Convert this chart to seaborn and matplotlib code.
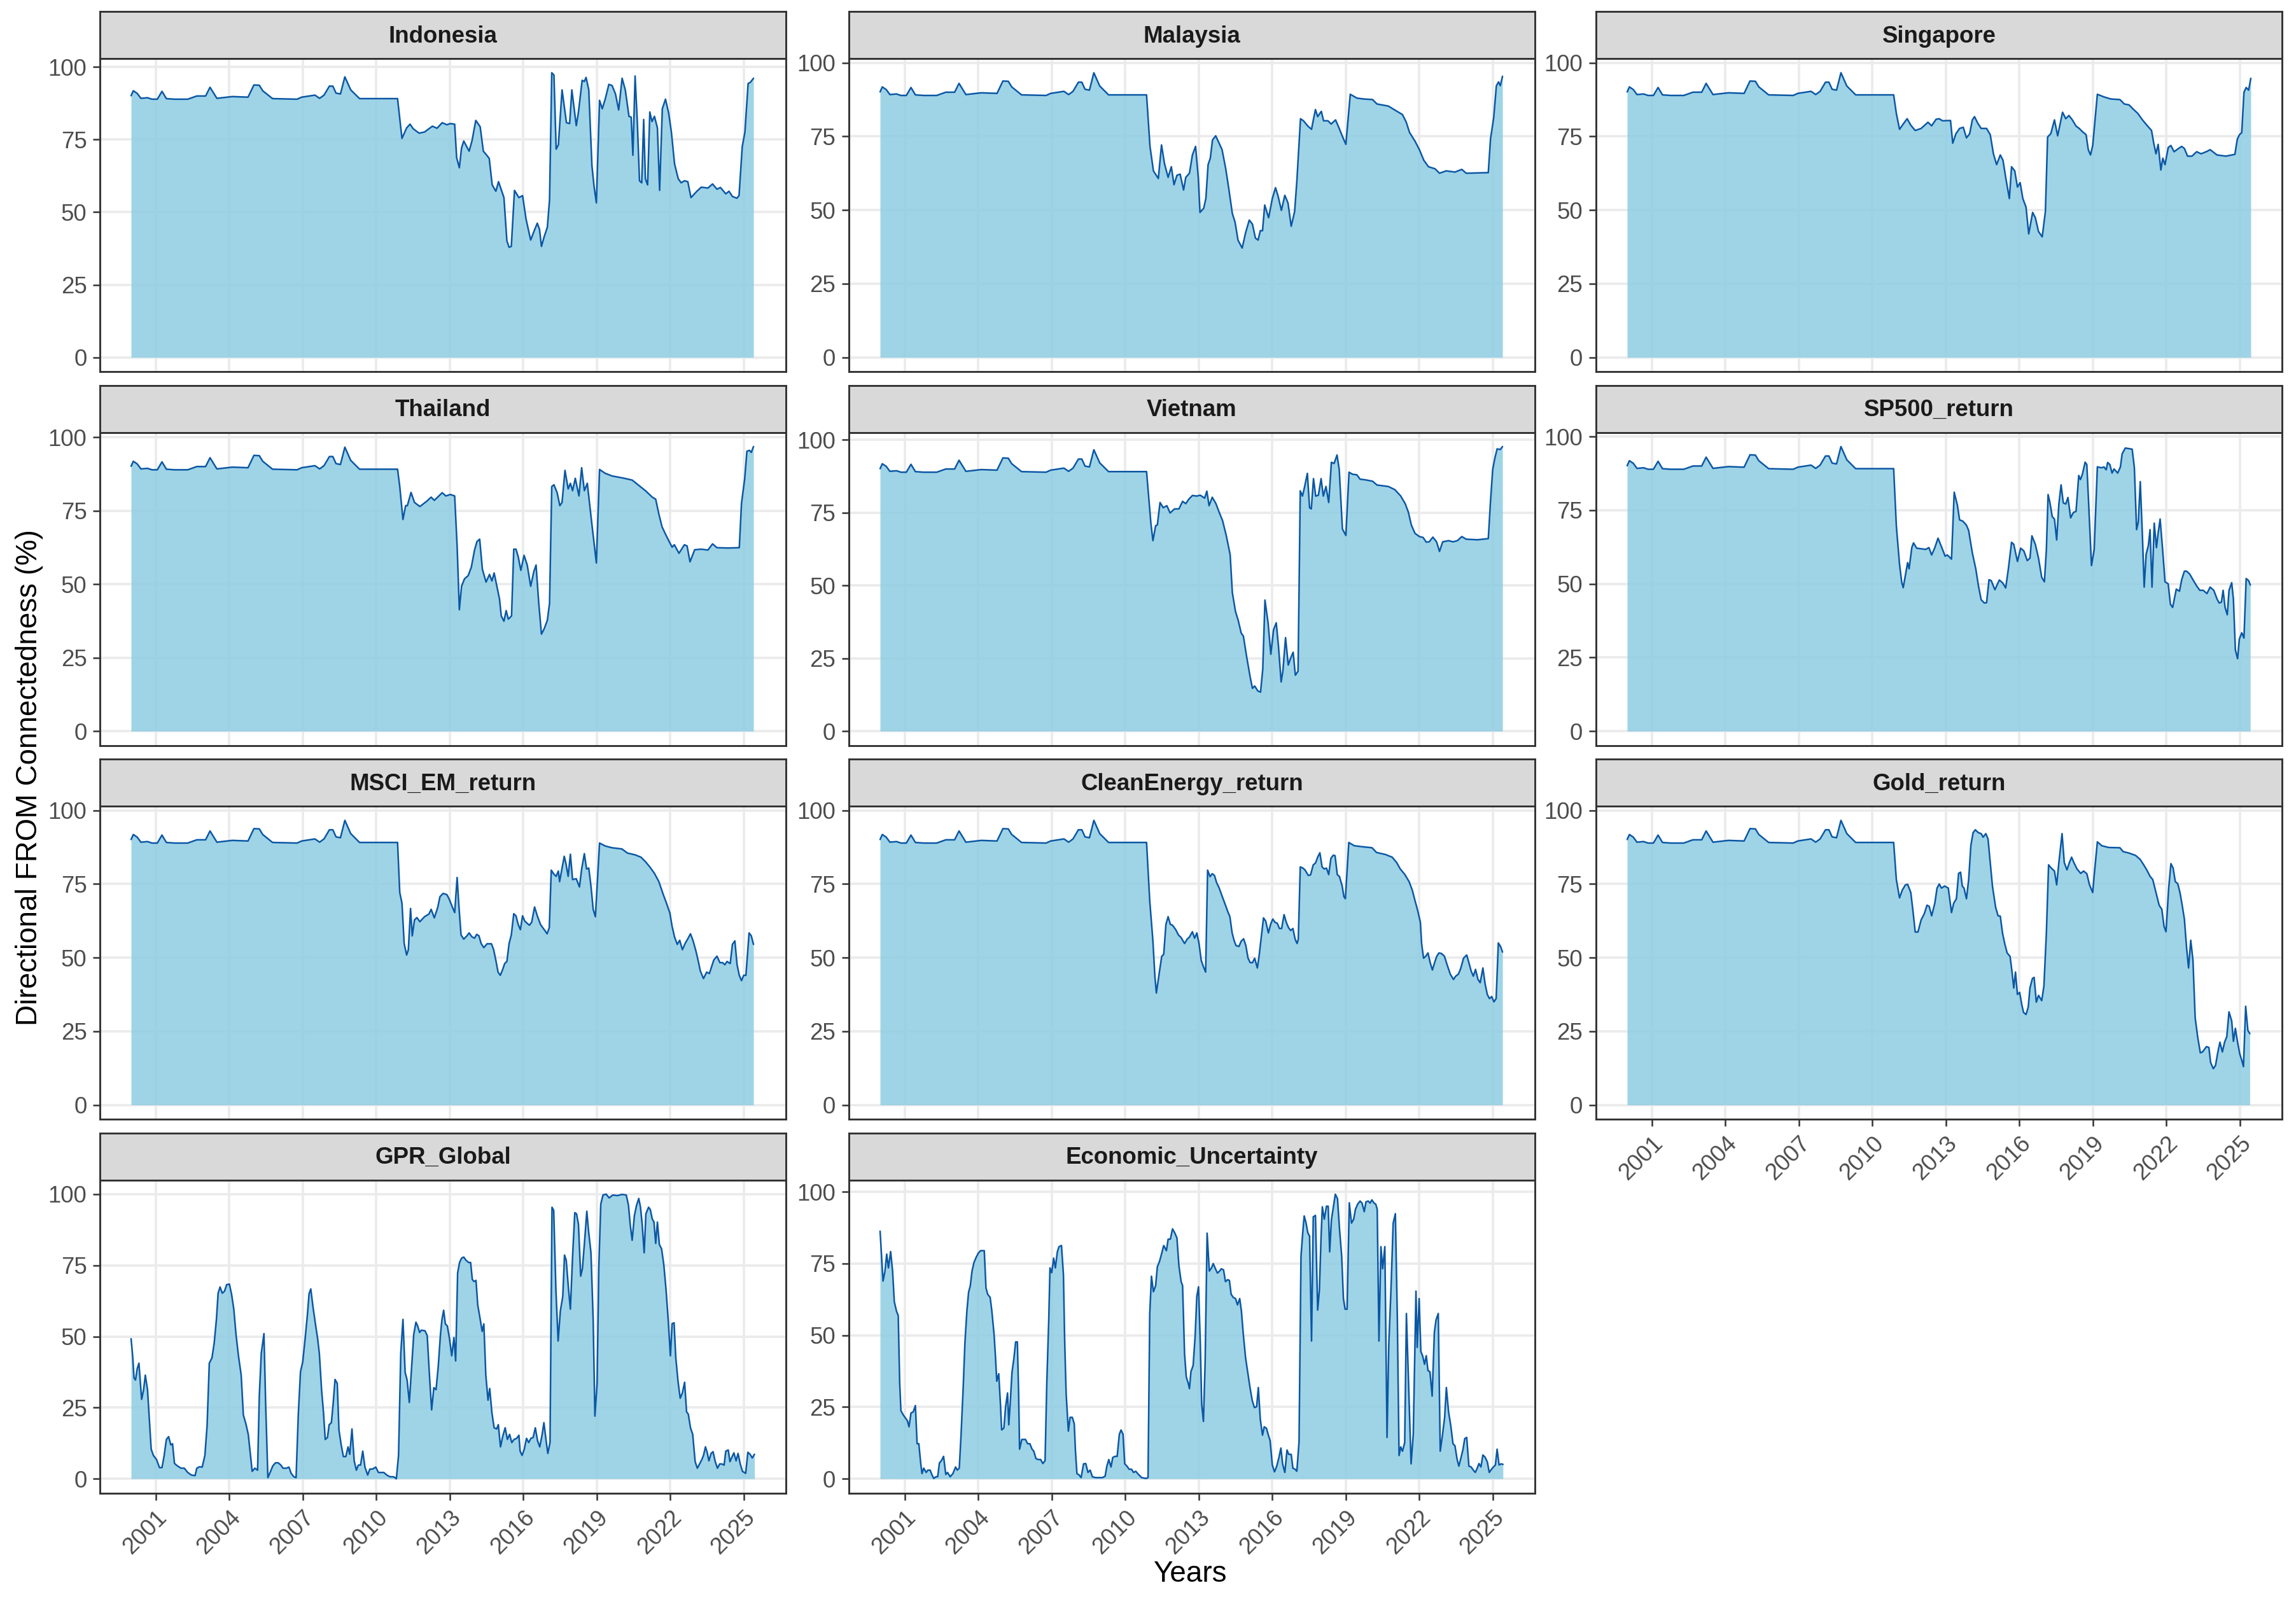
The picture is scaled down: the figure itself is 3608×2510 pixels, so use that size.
import numpy as np
import pandas as pd
import seaborn as sns
import matplotlib.pyplot as plt

# values (decimal year, connectedness %)
# first years are the same for the nine market series
early = [(2000.00, 90.1), (2000.09, 91.8), (2000.25, 90.9), (2000.40, 89.2), (2000.67, 89.4),
         (2000.85, 88.9), (2001.07, 88.9), (2001.26, 91.6), (2001.44, 89.1), (2001.77, 88.9),
         (2002.31, 88.9), (2002.68, 90.0), (2003.04, 90.0), (2003.22, 93.0), (2003.50, 89.2),
         (2004.13, 89.8), (2004.77, 89.6), (2005.01, 93.8), (2005.23, 93.7), (2005.37, 91.8),
         (2005.77, 89.1), (2006.77, 88.9), (2006.96, 89.6), (2007.50, 90.3), (2007.69, 89.2),
         (2007.87, 90.3), (2008.09, 93.4), (2008.23, 93.4), (2008.36, 91.0), (2008.54, 90.7),
         (2008.72, 96.6), (2008.96, 92.1), (2009.32, 89.1), (2010.87, 89.1)]

indonesia = [(2011.05, 75.4), (2011.24, 79.0), (2011.38, 80.3), (2011.51, 78.7), (2011.75, 77.2),
             (2011.97, 77.6), (2012.29, 79.6), (2012.48, 78.9), (2012.69, 80.8), (2012.88, 80.1),
             (2013.02, 80.5), (2013.20, 80.3), (2013.28, 68.8), (2013.39, 65.3), (2013.48, 72.1),
             (2013.57, 74.5), (2013.79, 71.0), (2013.91, 74.7), (2014.06, 81.6), (2014.24, 79.4),
             (2014.37, 71.0), (2014.48, 69.9), (2014.61, 68.5), (2014.73, 59.4), (2014.88, 57.2),
             (2014.99, 60.5), (2015.21, 55.0), (2015.33, 40.1), (2015.42, 37.9), (2015.51, 38.2),
             (2015.64, 57.5), (2015.82, 55.0), (2015.97, 55.7), (2016.11, 47.7), (2016.30, 40.4),
             (2016.43, 43.3), (2016.57, 46.2), (2016.66, 44.1), (2016.74, 38.2), (2016.85, 41.5),
             (2016.98, 44.8), (2017.07, 54.3), (2017.16, 98.0), (2017.25, 97.2), (2017.34, 71.7),
             (2017.43, 73.2), (2017.58, 92.1), (2017.76, 80.8), (2017.89, 80.5), (2017.98, 92.1),
             (2018.16, 79.8), (2018.25, 84.5), (2018.40, 95.4), (2018.49, 95.0), (2018.56, 96.4),
             (2018.67, 92.1), (2018.80, 65.9), (2018.89, 58.6), (2018.98, 53.2), (2019.11, 88.5),
             (2019.22, 85.6), (2019.34, 88.9), (2019.49, 94.0), (2019.62, 93.6), (2019.76, 90.7),
             (2019.89, 85.2), (2020.03, 96.1), (2020.16, 92.1), (2020.31, 83.0), (2020.40, 82.7),
             (2020.47, 69.6), (2020.56, 96.9), (2020.65, 81.2), (2020.74, 60.8), (2020.83, 60.1),
             (2020.91, 81.9), (2020.98, 61.5), (2021.07, 59.4), (2021.16, 84.5), (2021.25, 81.2),
             (2021.35, 83.0), (2021.47, 79.0), (2021.56, 57.5), (2021.67, 85.6), (2021.80, 88.9),
             (2021.93, 84.1), (2022.04, 77.6), (2022.17, 66.6), (2022.32, 61.5), (2022.44, 60.1),
             (2022.57, 60.8), (2022.71, 60.5), (2022.84, 55.0), (2023.08, 57.2), (2023.26, 58.6),
             (2023.53, 58.3), (2023.72, 59.7), (2023.90, 57.9), (2024.04, 58.5), (2024.26, 56.3),
             (2024.39, 57.2), (2024.53, 55.4), (2024.71, 54.8), (2024.80, 55.7), (2024.93, 72.5),
             (2025.04, 77.6), (2025.17, 94.3), (2025.26, 94.7), (2025.39, 96.1)]

malaysia = [(2011.01, 71.6), (2011.15, 63.3), (2011.35, 60.7), (2011.48, 72.1), (2011.60, 65.8),
            (2011.75, 61.1), (2011.88, 64.7), (2011.99, 58.6), (2012.11, 61.8), (2012.24, 62.2),
            (2012.38, 56.8), (2012.47, 61.1), (2012.62, 62.5), (2012.74, 68.7), (2012.87, 71.6),
            (2012.98, 61.1), (2013.05, 49.2), (2013.20, 50.6), (2013.29, 53.9), (2013.38, 65.4),
            (2013.47, 67.6), (2013.56, 73.8), (2013.69, 75.2), (2013.83, 72.7), (2013.95, 70.5),
            (2014.10, 64.0), (2014.22, 57.5), (2014.37, 48.8), (2014.48, 45.9), (2014.60, 39.8),
            (2014.77, 37.1), (2014.91, 42.3), (2015.06, 46.6), (2015.19, 45.2), (2015.31, 40.5),
            (2015.42, 39.8), (2015.51, 43.0), (2015.60, 43.0), (2015.69, 51.7), (2015.85, 47.4),
            (2016.00, 53.9), (2016.13, 57.6), (2016.24, 54.6), (2016.37, 49.9), (2016.51, 55.0),
            (2016.64, 52.4), (2016.77, 44.5), (2016.91, 49.5), (2017.00, 59.7), (2017.15, 81.0),
            (2017.27, 80.3), (2017.45, 78.5), (2017.60, 77.4), (2017.69, 81.3), (2017.76, 84.1),
            (2017.85, 81.7), (2018.00, 83.5), (2018.09, 80.3), (2018.27, 80.3), (2018.40, 79.2),
            (2018.58, 80.6), (2018.73, 77.7), (2018.87, 74.8), (2019.00, 72.3), (2019.18, 89.3),
            (2019.45, 88.0), (2019.73, 87.7), (2020.09, 87.5), (2020.27, 86.0), (2020.73, 85.3),
            (2021.09, 83.5), (2021.31, 82.4), (2021.46, 79.9), (2021.60, 76.3), (2021.82, 73.4),
            (2022.00, 70.5), (2022.18, 66.9), (2022.37, 64.7), (2022.64, 64.0), (2022.82, 62.5),
            (2023.09, 63.3), (2023.45, 62.9), (2023.73, 63.8), (2023.91, 62.5), (2024.81, 62.7),
            (2024.90, 74.1), (2025.03, 81.3), (2025.14, 92.2), (2025.23, 93.5), (2025.30, 92.2),
            (2025.39, 95.4)]

singapore = [(2010.98, 82.8), (2011.11, 77.4), (2011.26, 79.2), (2011.42, 81.0), (2011.57, 78.8),
             (2011.75, 77.0), (2011.99, 77.7), (2012.27, 79.8), (2012.42, 78.6), (2012.60, 80.8),
             (2012.73, 81.0), (2012.86, 80.3), (2013.19, 80.4), (2013.28, 72.7), (2013.41, 75.9),
             (2013.56, 77.7), (2013.71, 78.1), (2013.84, 74.5), (2013.97, 75.9), (2014.08, 80.6),
             (2014.17, 81.7), (2014.30, 79.5), (2014.44, 77.7), (2014.66, 77.7), (2014.81, 75.6),
             (2014.94, 69.1), (2015.07, 65.4), (2015.22, 68.7), (2015.33, 66.9), (2015.44, 61.1),
             (2015.59, 53.9), (2015.68, 64.7), (2015.81, 63.3), (2015.92, 57.8), (2016.03, 59.3),
             (2016.14, 53.9), (2016.27, 51.0), (2016.38, 41.9), (2016.54, 49.2), (2016.65, 47.4),
             (2016.78, 42.7), (2016.93, 40.9), (2017.06, 49.5), (2017.15, 74.8), (2017.28, 75.9),
             (2017.43, 80.6), (2017.56, 75.2), (2017.76, 83.2), (2017.89, 81.0), (2018.02, 82.1),
             (2018.16, 80.6), (2018.31, 78.5), (2018.44, 77.7), (2018.57, 76.6), (2018.72, 75.6),
             (2018.81, 70.5), (2018.90, 68.7), (2018.99, 71.9), (2019.18, 89.3), (2019.45, 88.4),
             (2019.73, 87.7), (2020.10, 87.5), (2020.28, 86.0), (2020.47, 85.7), (2020.65, 84.2),
             (2020.83, 82.8), (2021.02, 80.6), (2021.20, 78.8), (2021.39, 77.0), (2021.48, 72.7),
             (2021.57, 69.1), (2021.66, 72.3), (2021.77, 63.6), (2021.85, 67.6), (2021.94, 65.4),
             (2022.07, 71.2), (2022.18, 71.9), (2022.31, 69.8), (2022.49, 70.9), (2022.62, 71.6),
             (2022.73, 70.9), (2022.86, 68.3), (2023.04, 68.3), (2023.23, 69.8), (2023.41, 69.1),
             (2023.65, 69.9), (2023.78, 70.5), (2024.06, 68.7), (2024.42, 68.3), (2024.79, 68.9),
             (2024.89, 74.1), (2024.98, 75.6), (2025.07, 76.3), (2025.16, 90.0), (2025.25, 91.6),
             (2025.35, 90.7), (2025.44, 94.7)]

thailand = [(2010.96, 83.2), (2011.09, 72.0), (2011.20, 76.7), (2011.27, 76.7), (2011.42, 81.2),
            (2011.56, 77.8), (2011.78, 76.4), (2012.06, 78.2), (2012.24, 79.6), (2012.37, 78.5),
            (2012.69, 81.1), (2012.84, 80.0), (2013.02, 80.5), (2013.20, 80.0), (2013.30, 63.0),
            (2013.39, 41.3), (2013.48, 49.3), (2013.60, 51.8), (2013.75, 52.9), (2013.88, 55.8),
            (2014.01, 61.6), (2014.11, 64.5), (2014.22, 65.3), (2014.33, 55.1), (2014.48, 50.7),
            (2014.62, 53.3), (2014.72, 51.1), (2014.81, 53.8), (2014.92, 49.3), (2015.03, 44.9),
            (2015.10, 39.2), (2015.21, 37.4), (2015.30, 41.0), (2015.39, 38.1), (2015.52, 39.2),
            (2015.61, 61.9), (2015.70, 61.9), (2015.79, 59.4), (2015.90, 54.7), (2016.03, 59.8),
            (2016.16, 56.5), (2016.30, 49.3), (2016.43, 54.3), (2016.52, 56.5), (2016.63, 43.5),
            (2016.74, 33.0), (2016.85, 34.8), (2016.98, 37.7), (2017.07, 43.5), (2017.16, 83.2),
            (2017.25, 83.8), (2017.38, 81.1), (2017.49, 76.7), (2017.58, 77.8), (2017.70, 88.7),
            (2017.83, 82.4), (2017.92, 84.3), (2018.01, 81.8), (2018.12, 86.0), (2018.27, 80.0),
            (2018.38, 89.6), (2018.49, 81.8), (2018.61, 84.3), (2018.80, 70.2), (2018.98, 57.2),
            (2019.11, 89.0), (2019.34, 87.7), (2019.62, 86.8), (2020.07, 86.1), (2020.44, 85.4),
            (2020.71, 83.6), (2020.98, 81.8), (2021.26, 79.6), (2021.40, 78.9), (2021.53, 73.8),
            (2021.66, 69.5), (2021.80, 67.0), (2021.95, 64.5), (2022.07, 62.6), (2022.16, 63.4),
            (2022.35, 60.5), (2022.57, 63.4), (2022.68, 63.0), (2022.80, 57.6), (2022.99, 61.7),
            (2023.26, 61.9), (2023.53, 61.6), (2023.72, 63.7), (2023.90, 62.4), (2024.35, 62.3),
            (2024.81, 62.4), (2024.90, 77.5), (2025.03, 85.8), (2025.12, 95.2), (2025.23, 95.5),
            (2025.30, 94.8), (2025.39, 96.8)]

vietnam = [(2011.05, 71.1), (2011.13, 65.4), (2011.24, 70.5), (2011.31, 70.8), (2011.42, 78.5),
           (2011.55, 76.7), (2011.70, 77.4), (2011.83, 74.9), (2012.01, 76.3), (2012.19, 76.3),
           (2012.34, 78.9), (2012.47, 78.1), (2012.59, 79.6), (2012.74, 80.9), (2012.92, 80.7),
           (2013.06, 81.0), (2013.24, 80.0), (2013.33, 82.4), (2013.42, 77.4), (2013.55, 80.3),
           (2013.70, 78.1), (2013.83, 75.2), (2013.97, 72.3), (2014.12, 67.2), (2014.28, 60.6),
           (2014.37, 47.5), (2014.50, 41.0), (2014.61, 38.0), (2014.73, 33.7), (2014.82, 32.6),
           (2014.95, 25.7), (2015.10, 18.4), (2015.19, 14.7), (2015.28, 15.5), (2015.41, 13.8),
           (2015.52, 13.4), (2015.61, 21.3), (2015.70, 45.0), (2015.83, 37.0), (2015.94, 26.4),
           (2016.05, 34.8), (2016.16, 37.2), (2016.25, 29.3), (2016.36, 16.9), (2016.43, 20.6),
           (2016.54, 32.1), (2016.65, 22.7), (2016.74, 24.9), (2016.85, 27.1), (2016.94, 19.2),
           (2017.05, 20.6), (2017.14, 82.5), (2017.23, 80.7), (2017.32, 84.0), (2017.43, 88.5),
           (2017.52, 76.7), (2017.59, 76.3), (2017.68, 86.7), (2017.77, 80.7), (2017.88, 81.0),
           (2017.99, 86.7), (2018.08, 80.7), (2018.19, 84.0), (2018.30, 78.5), (2018.41, 92.3),
           (2018.52, 91.9), (2018.64, 94.8), (2018.73, 89.8), (2018.86, 69.4), (2019.00, 67.2),
           (2019.13, 88.9), (2019.27, 88.2), (2019.45, 88.0), (2019.58, 86.5), (2019.78, 86.3),
           (2020.09, 85.8), (2020.27, 84.5), (2020.73, 84.0), (2021.00, 82.9), (2021.24, 80.7),
           (2021.42, 78.1), (2021.55, 75.2), (2021.67, 70.8), (2021.82, 67.9), (2022.00, 66.8),
           (2022.15, 66.5), (2022.28, 64.9), (2022.40, 65.0), (2022.55, 66.6), (2022.70, 65.0),
           (2022.82, 61.7), (2022.95, 65.0), (2023.19, 65.4), (2023.37, 65.0), (2023.55, 65.4),
           (2023.73, 66.8), (2023.91, 65.9), (2024.37, 65.7), (2024.81, 66.1), (2024.90, 78.9),
           (2024.99, 89.8), (2025.08, 93.8), (2025.17, 96.9), (2025.30, 96.7), (2025.39, 97.7)]

sp500 = [(2010.98, 69.7), (2011.11, 56.6), (2011.20, 50.5), (2011.26, 48.7), (2011.35, 52.9),
         (2011.44, 57.2), (2011.50, 55.1), (2011.61, 62.3), (2011.68, 63.9), (2011.81, 62.1),
         (2011.99, 61.9), (2012.18, 61.7), (2012.31, 62.3), (2012.42, 59.8), (2012.55, 62.3),
         (2012.68, 65.5), (2012.82, 62.6), (2012.97, 59.4), (2013.06, 59.8), (2013.23, 58.4),
         (2013.34, 81.1), (2013.47, 76.7), (2013.56, 71.7), (2013.69, 71.3), (2013.84, 69.9),
         (2013.93, 68.1), (2014.08, 60.5), (2014.22, 55.1), (2014.33, 49.3), (2014.44, 44.6),
         (2014.57, 43.5), (2014.66, 43.6), (2014.76, 51.4), (2014.85, 51.1), (2015.00, 48.0),
         (2015.18, 51.3), (2015.31, 50.4), (2015.44, 48.6), (2015.55, 55.1), (2015.68, 64.1),
         (2015.77, 63.4), (2015.92, 57.6), (2016.05, 62.1), (2016.18, 61.2), (2016.32, 57.9),
         (2016.43, 58.7), (2016.51, 66.3), (2016.65, 63.4), (2016.78, 58.7), (2016.91, 52.2),
         (2017.02, 50.7), (2017.10, 61.6), (2017.17, 80.3), (2017.24, 77.8), (2017.34, 72.8),
         (2017.43, 72.0), (2017.52, 64.9), (2017.61, 77.1), (2017.70, 83.6), (2017.79, 77.5),
         (2017.89, 77.1), (2017.98, 79.3), (2018.09, 72.4), (2018.20, 74.2), (2018.31, 74.6),
         (2018.42, 86.8), (2018.49, 85.4), (2018.57, 87.2), (2018.68, 91.3), (2018.75, 90.5),
         (2018.84, 74.6), (2018.94, 56.2), (2019.05, 61.6), (2019.18, 89.7), (2019.36, 89.4),
         (2019.45, 89.7), (2019.54, 88.7), (2019.60, 91.2), (2019.69, 90.5), (2019.78, 87.6),
         (2019.86, 89.0), (2020.01, 87.6), (2020.12, 89.7), (2020.19, 94.1), (2020.32, 96.1),
         (2020.47, 95.9), (2020.60, 95.7), (2020.69, 89.4), (2020.78, 68.4), (2020.85, 71.0),
         (2020.93, 84.7), (2021.02, 65.9), (2021.09, 48.9), (2021.17, 60.1), (2021.26, 63.0),
         (2021.33, 68.4), (2021.41, 48.9), (2021.50, 70.6), (2021.59, 62.3), (2021.66, 67.3),
         (2021.74, 72.0), (2021.85, 60.8), (2021.94, 50.7), (2022.07, 50.0), (2022.16, 43.1),
         (2022.25, 42.0), (2022.40, 48.2), (2022.53, 47.5), (2022.62, 51.4), (2022.73, 54.3),
         (2022.82, 54.3), (2022.95, 53.3), (2023.10, 51.1), (2023.23, 49.3), (2023.36, 47.8),
         (2023.50, 47.8), (2023.65, 46.7), (2023.78, 48.9), (2023.93, 47.8), (2024.06, 44.9),
         (2024.15, 43.5), (2024.24, 43.8), (2024.31, 47.8), (2024.39, 42.0), (2024.48, 39.5),
         (2024.55, 47.8), (2024.66, 50.4), (2024.73, 44.9), (2024.81, 27.6), (2024.90, 24.6),
         (2024.97, 31.2), (2025.07, 33.4), (2025.16, 31.6), (2025.25, 51.8), (2025.35, 51.1),
         (2025.42, 49.6)]

msci_em = [(2010.96, 72.1), (2011.05, 68.5), (2011.14, 54.8), (2011.24, 50.9), (2011.31, 52.7),
           (2011.40, 66.7), (2011.47, 57.4), (2011.56, 62.8), (2011.66, 63.6), (2011.78, 62.2),
           (2011.97, 63.9), (2012.15, 64.8), (2012.24, 66.4), (2012.37, 63.5), (2012.51, 67.1),
           (2012.60, 70.7), (2012.73, 71.8), (2012.88, 71.4), (2012.97, 70.0), (2013.09, 67.5),
           (2013.20, 65.3), (2013.30, 77.2), (2013.37, 67.8), (2013.46, 57.7), (2013.57, 56.3),
           (2013.70, 57.4), (2013.79, 58.4), (2013.90, 57.1), (2014.01, 56.6), (2014.10, 57.9),
           (2014.19, 57.4), (2014.28, 54.8), (2014.39, 53.4), (2014.52, 54.7), (2014.70, 54.7),
           (2014.79, 52.7), (2014.88, 49.1), (2014.97, 45.1), (2015.06, 44.0), (2015.15, 45.8),
           (2015.24, 48.0), (2015.33, 48.7), (2015.42, 54.8), (2015.51, 57.7), (2015.61, 64.9),
           (2015.70, 64.2), (2015.79, 61.3), (2015.88, 59.5), (2015.97, 64.2), (2016.06, 62.4),
           (2016.15, 61.7), (2016.25, 61.0), (2016.34, 62.0), (2016.46, 67.2), (2016.57, 64.2),
           (2016.70, 61.3), (2016.79, 60.2), (2016.88, 59.2), (2016.97, 58.1), (2017.06, 60.2),
           (2017.14, 79.7), (2017.25, 78.3), (2017.34, 77.6), (2017.43, 79.4), (2017.48, 75.8),
           (2017.58, 80.4), (2017.67, 84.4), (2017.74, 81.9), (2017.83, 77.6), (2017.92, 85.1),
           (2018.01, 76.5), (2018.16, 76.8), (2018.29, 74.0), (2018.38, 80.1), (2018.49, 85.3),
           (2018.58, 80.1), (2018.67, 80.4), (2018.76, 74.3), (2018.85, 66.4), (2018.94, 63.9),
           (2019.11, 88.9), (2019.34, 87.9), (2019.62, 87.3), (2020.02, 86.9), (2020.25, 85.5),
           (2020.56, 84.9), (2020.80, 84.1), (2020.98, 82.6), (2021.16, 80.8), (2021.35, 78.6),
           (2021.53, 75.8), (2021.71, 71.4), (2021.84, 68.5), (2021.98, 65.1), (2022.07, 60.6),
           (2022.17, 57.0), (2022.28, 54.5), (2022.38, 55.9), (2022.49, 52.7), (2022.60, 54.8),
           (2022.71, 56.4), (2022.82, 58.1), (2022.93, 55.6), (2023.04, 52.3), (2023.13, 49.1),
           (2023.22, 45.5), (2023.35, 42.9), (2023.48, 45.1), (2023.59, 44.6), (2023.68, 46.9),
           (2023.77, 49.2), (2023.90, 50.5), (2024.02, 48.3), (2024.13, 48.3), (2024.22, 47.6),
           (2024.31, 48.7), (2024.44, 48.0), (2024.53, 54.5), (2024.63, 55.7), (2024.72, 47.6),
           (2024.81, 44.0), (2024.90, 42.2), (2024.99, 44.0), (2025.08, 44.0), (2025.21, 58.4),
           (2025.30, 57.4), (2025.39, 54.5)]

clean_energy = [(2011.00, 69.3), (2011.13, 55.6), (2011.21, 43.7), (2011.27, 38.0), (2011.40, 45.5),
                (2011.49, 50.5), (2011.57, 51.1), (2011.66, 61.3), (2011.75, 63.9), (2011.84, 61.3),
                (2011.93, 61.0), (2012.06, 59.5), (2012.17, 57.7), (2012.28, 56.8), (2012.42, 54.8),
                (2012.53, 56.3), (2012.62, 57.0), (2012.74, 58.8), (2012.83, 56.6), (2012.92, 58.4),
                (2013.01, 54.8), (2013.10, 49.1), (2013.19, 46.9), (2013.28, 45.1), (2013.36, 79.7),
                (2013.46, 77.5), (2013.55, 78.5), (2013.64, 77.9), (2013.73, 75.4), (2013.82, 73.9),
                (2013.96, 70.7), (2014.09, 67.8), (2014.18, 65.7), (2014.27, 63.9), (2014.36, 58.4),
                (2014.45, 55.6), (2014.52, 54.1), (2014.64, 53.8), (2014.73, 55.6), (2014.83, 56.4),
                (2014.92, 54.1), (2015.01, 49.8), (2015.10, 48.3), (2015.19, 48.3), (2015.28, 49.8),
                (2015.39, 46.5), (2015.46, 50.5), (2015.55, 57.0), (2015.64, 63.5), (2015.73, 62.4),
                (2015.84, 58.4), (2015.93, 61.3), (2016.02, 63.1), (2016.11, 62.0), (2016.20, 61.7),
                (2016.29, 59.9), (2016.38, 59.9), (2016.48, 64.6), (2016.57, 62.0), (2016.66, 60.2),
                (2016.75, 59.2), (2016.84, 59.9), (2016.93, 56.3), (2017.01, 54.8), (2017.06, 56.3),
                (2017.14, 80.8), (2017.25, 80.4), (2017.34, 79.7), (2017.47, 77.9), (2017.56, 78.1),
                (2017.67, 81.5), (2017.76, 82.1), (2017.85, 84.1), (2017.94, 85.6), (2018.03, 80.8),
                (2018.12, 80.1), (2018.21, 80.4), (2018.30, 78.2), (2018.39, 83.7), (2018.49, 84.8),
                (2018.56, 84.6), (2018.65, 78.2), (2018.74, 77.5), (2018.85, 74.3), (2018.92, 70.7),
                (2018.98, 70.0), (2019.12, 89.1), (2019.34, 88.0), (2019.62, 87.7), (2020.07, 87.3),
                (2020.25, 85.7), (2020.62, 85.0), (2020.89, 84.1), (2021.07, 82.3), (2021.22, 80.1),
                (2021.40, 78.3), (2021.58, 75.8), (2021.71, 72.9), (2021.80, 70.0), (2021.93, 66.0),
                (2022.04, 62.0), (2022.09, 54.8), (2022.17, 49.8), (2022.26, 50.5), (2022.35, 51.6),
                (2022.44, 48.3), (2022.53, 45.8), (2022.62, 48.3), (2022.71, 50.5), (2022.80, 51.6),
                (2022.90, 51.4), (2023.02, 50.5), (2023.13, 47.6), (2023.26, 44.4), (2023.39, 42.6),
                (2023.48, 43.7), (2023.59, 44.4), (2023.68, 46.2), (2023.80, 49.8), (2023.93, 50.9),
                (2024.02, 48.3), (2024.11, 45.5), (2024.20, 43.7), (2024.29, 46.0), (2024.39, 42.6),
                (2024.48, 41.5), (2024.59, 46.5), (2024.68, 41.1), (2024.77, 37.5), (2024.86, 36.1),
                (2024.95, 36.8), (2025.04, 35.0), (2025.13, 36.1), (2025.22, 55.0), (2025.31, 53.8),
                (2025.39, 51.9)]

gold = [(2010.98, 76.5), (2011.11, 70.3), (2011.22, 72.9), (2011.35, 74.7), (2011.44, 74.9),
        (2011.57, 72.1), (2011.66, 65.7), (2011.75, 58.7), (2011.86, 58.7), (2011.99, 62.8),
        (2012.12, 64.9), (2012.23, 67.8), (2012.32, 67.4), (2012.42, 64.2), (2012.55, 68.5),
        (2012.64, 73.6), (2012.73, 75.0), (2012.82, 73.6), (2012.95, 74.3), (2013.10, 73.6),
        (2013.23, 65.3), (2013.32, 68.5), (2013.43, 70.0), (2013.52, 78.6), (2013.60, 79.0),
        (2013.67, 74.3), (2013.74, 73.6), (2013.84, 70.0), (2013.93, 76.5), (2014.02, 88.1),
        (2014.11, 92.4), (2014.20, 93.4), (2014.33, 92.4), (2014.44, 92.1), (2014.52, 90.9),
        (2014.63, 92.1), (2014.72, 90.3), (2014.81, 82.4), (2014.90, 74.3), (2015.03, 67.1),
        (2015.13, 64.2), (2015.22, 64.1), (2015.31, 58.4), (2015.40, 54.8), (2015.50, 51.6),
        (2015.62, 50.4), (2015.70, 45.1), (2015.77, 39.7), (2015.84, 45.1), (2015.92, 37.5),
        (2016.01, 38.2), (2016.10, 33.9), (2016.17, 31.4), (2016.27, 30.7), (2016.36, 33.2),
        (2016.43, 39.7), (2016.53, 42.9), (2016.60, 43.3), (2016.69, 34.9), (2016.78, 37.2),
        (2016.91, 35.4), (2017.00, 40.4), (2017.10, 58.4), (2017.19, 81.5), (2017.30, 80.4),
        (2017.43, 79.4), (2017.52, 74.7), (2017.61, 82.3), (2017.74, 92.1), (2017.83, 82.3),
        (2017.94, 79.8), (2018.04, 82.3), (2018.13, 84.1), (2018.22, 82.3), (2018.35, 80.1),
        (2018.50, 78.6), (2018.62, 79.4), (2018.75, 78.5), (2018.86, 74.7), (2018.99, 72.1),
        (2019.05, 77.9), (2019.18, 89.3), (2019.36, 88.0), (2019.64, 87.4), (2020.10, 87.3),
        (2020.23, 86.0), (2020.47, 85.5), (2020.74, 84.7), (2020.93, 83.3), (2021.07, 81.5),
        (2021.20, 79.7), (2021.33, 77.6), (2021.44, 76.5), (2021.57, 72.1), (2021.70, 67.8),
        (2021.81, 66.4), (2021.90, 60.6), (2021.98, 58.8), (2022.09, 73.6), (2022.18, 81.9),
        (2022.27, 80.4), (2022.36, 75.8), (2022.46, 75.1), (2022.55, 72.1), (2022.64, 67.8),
        (2022.73, 63.1), (2022.82, 53.4), (2022.90, 46.5), (2022.99, 55.9), (2023.08, 49.1),
        (2023.17, 29.6), (2023.27, 23.2), (2023.38, 17.7), (2023.47, 18.0), (2023.54, 18.8),
        (2023.63, 19.8), (2023.73, 19.5), (2023.80, 14.4), (2023.91, 12.3), (2024.00, 13.4),
        (2024.09, 17.7), (2024.18, 21.3), (2024.28, 18.0), (2024.37, 21.3), (2024.46, 23.2),
        (2024.55, 31.6), (2024.66, 28.5), (2024.73, 21.6), (2024.81, 26.0), (2024.90, 21.3),
        (2024.99, 17.3), (2025.07, 15.2), (2025.14, 13.0), (2025.23, 33.5), (2025.32, 25.3),
        (2025.40, 24.2)]

gpr_global = [(2000.00, 49.2), (2000.07, 42.5), (2000.12, 35.4), (2000.18, 34.7), (2000.25, 38.7),
              (2000.32, 40.6), (2000.38, 33.5), (2000.43, 27.9), (2000.51, 31.3), (2000.58, 36.4),
              (2000.67, 31.3), (2000.74, 21.6), (2000.82, 10.4), (2000.91, 8.2), (2001.04, 6.7),
              (2001.16, 3.9), (2001.26, 3.9), (2001.35, 8.2), (2001.44, 13.8), (2001.53, 14.8),
              (2001.62, 11.9), (2001.69, 12.3), (2001.77, 5.4), (2001.89, 4.5), (2002.04, 3.7),
              (2002.17, 3.7), (2002.31, 2.2), (2002.46, 1.3), (2002.61, 1.1), (2002.68, 3.7),
              (2002.79, 4.2), (2002.90, 4.1), (2003.01, 8.2), (2003.10, 18.6), (2003.19, 40.6),
              (2003.30, 42.5), (2003.39, 47.7), (2003.48, 55.9), (2003.55, 65.2), (2003.63, 67.4),
              (2003.72, 65.2), (2003.81, 65.9), (2003.90, 68.2), (2004.01, 68.4), (2004.10, 64.8),
              (2004.19, 59.6), (2004.28, 50.7), (2004.38, 43.2), (2004.49, 36.5), (2004.58, 22.4),
              (2004.68, 19.4), (2004.78, 15.6), (2004.87, 8.2), (2004.94, 2.6), (2005.05, 3.7),
              (2005.16, 3.0), (2005.23, 29.1), (2005.31, 44.0), (2005.42, 51.0), (2005.49, 26.1),
              (2005.58, 0.4), (2005.69, 2.6), (2005.78, 4.5), (2005.89, 5.6), (2006.00, 5.6),
              (2006.11, 4.8), (2006.20, 3.7), (2006.33, 3.7), (2006.44, 4.1), (2006.53, 1.9),
              (2006.64, 0.7), (2006.73, 0.4), (2006.82, 22.4), (2006.91, 37.6), (2007.00, 41.0),
              (2007.09, 48.4), (2007.19, 57.4), (2007.26, 65.0), (2007.33, 66.7), (2007.42, 60.4),
              (2007.52, 54.4), (2007.61, 49.2), (2007.68, 44.0), (2007.77, 31.3), (2007.85, 23.1),
              (2007.92, 13.8), (2008.01, 14.5), (2008.08, 19.0), (2008.17, 19.7), (2008.24, 26.1),
              (2008.32, 34.9), (2008.41, 33.5), (2008.48, 17.1), (2008.57, 11.9), (2008.66, 7.8),
              (2008.76, 7.8), (2008.85, 11.2), (2008.92, 8.6), (2009.01, 17.5), (2009.10, 6.3),
              (2009.19, 3.0), (2009.27, 4.8), (2009.36, 4.8), (2009.45, 9.7), (2009.54, 4.1),
              (2009.65, 1.3), (2009.74, 3.4), (2009.85, 3.4), (2009.98, 4.1), (2010.09, 2.2),
              (2010.20, 2.2), (2010.31, 2.2), (2010.43, 1.3), (2010.56, 0.7), (2010.71, 0.7),
              (2010.82, 0.0), (2010.91, 8.2), (2011.00, 44.0), (2011.09, 56.0), (2011.18, 37.3),
              (2011.26, 34.7), (2011.35, 26.8), (2011.44, 38.7), (2011.53, 50.7), (2011.62, 55.0),
              (2011.69, 53.7), (2011.77, 51.4), (2011.84, 52.2), (2011.99, 52.0), (2012.08, 50.3),
              (2012.17, 36.5), (2012.26, 24.2), (2012.35, 32.0), (2012.44, 31.3), (2012.53, 39.5),
              (2012.62, 50.7), (2012.68, 55.9), (2012.75, 59.2), (2012.82, 54.4), (2012.90, 53.7),
              (2012.99, 49.2), (2013.08, 43.2), (2013.17, 49.6), (2013.24, 41.4), (2013.32, 72.3),
              (2013.40, 76.0), (2013.48, 77.5), (2013.57, 77.9), (2013.66, 76.8), (2013.77, 76.0),
              (2013.85, 76.0), (2013.92, 70.0), (2013.99, 69.3), (2014.07, 69.7), (2014.14, 61.1),
              (2014.23, 56.6), (2014.32, 51.8), (2014.39, 54.4), (2014.47, 36.5), (2014.56, 27.6),
              (2014.63, 31.7), (2014.72, 23.1), (2014.81, 17.9), (2014.91, 17.5), (2014.98, 19.0),
              (2015.07, 11.2), (2015.16, 14.9), (2015.26, 17.9), (2015.35, 13.8), (2015.44, 15.6),
              (2015.53, 12.7), (2015.62, 13.8), (2015.73, 14.2), (2015.82, 15.3), (2015.87, 9.7),
              (2015.95, 8.2), (2016.04, 10.4), (2016.13, 14.2), (2016.22, 12.7), (2016.31, 14.2),
              (2016.40, 14.5), (2016.49, 17.9), (2016.58, 13.4), (2016.67, 11.2), (2016.77, 15.6),
              (2016.84, 19.7), (2016.93, 13.4), (2017.00, 8.9), (2017.09, 12.7), (2017.17, 95.4),
              (2017.24, 94.3), (2017.33, 66.3), (2017.42, 48.4), (2017.51, 58.9), (2017.61, 64.1),
              (2017.68, 78.6), (2017.75, 76.8), (2017.84, 67.1), (2017.92, 59.6), (2018.01, 78.2),
              (2018.10, 93.5), (2018.17, 93.1), (2018.25, 89.4), (2018.34, 71.2), (2018.41, 73.8),
              (2018.50, 83.5), (2018.59, 94.0), (2018.66, 87.2), (2018.76, 79.4), (2018.85, 55.9),
              (2018.92, 22.0), (2019.01, 33.5), (2019.08, 74.5), (2019.16, 96.5), (2019.25, 99.7),
              (2019.38, 100.0), (2019.50, 98.7), (2019.65, 99.7), (2019.84, 99.5), (2020.02, 99.9),
              (2020.20, 99.7), (2020.29, 96.1), (2020.36, 89.4), (2020.44, 83.8), (2020.53, 92.4),
              (2020.62, 96.1), (2020.71, 98.5), (2020.78, 95.4), (2020.85, 89.4), (2020.93, 79.4),
              (2021.00, 93.1), (2021.11, 95.4), (2021.18, 94.6), (2021.26, 91.3), (2021.33, 90.2),
              (2021.40, 82.7), (2021.47, 90.2), (2021.55, 82.3), (2021.64, 80.8), (2021.73, 75.3),
              (2021.82, 66.7), (2021.91, 55.9), (2022.00, 43.2), (2022.07, 54.5), (2022.15, 54.8),
              (2022.22, 42.5), (2022.31, 34.3), (2022.40, 28.3), (2022.49, 30.2), (2022.58, 33.9),
              (2022.66, 23.5), (2022.73, 22.7), (2022.82, 17.9), (2022.91, 15.6), (2023.01, 6.0),
              (2023.10, 3.7), (2023.19, 5.2), (2023.28, 6.7), (2023.35, 8.2), (2023.43, 11.2),
              (2023.50, 9.3), (2023.57, 6.3), (2023.66, 8.9), (2023.74, 9.5), (2023.83, 6.0),
              (2023.92, 3.7), (2024.01, 5.2), (2024.10, 5.2), (2024.19, 4.8), (2024.26, 9.7),
              (2024.36, 10.1), (2024.43, 6.0), (2024.52, 7.8), (2024.59, 9.1), (2024.68, 6.3),
              (2024.76, 8.9), (2024.85, 5.2), (2024.94, 2.6), (2025.07, 1.9), (2025.16, 9.3),
              (2025.25, 8.6), (2025.34, 7.3), (2025.43, 8.6)]

economic_uncertainty = [(2000.00, 86.3), (2000.07, 76.1), (2000.12, 68.9), (2000.20, 72.4), (2000.27, 78.3),
                        (2000.34, 73.5), (2000.43, 79.2), (2000.51, 72.4), (2000.58, 61.7), (2000.67, 58.4),
                        (2000.74, 56.9), (2000.80, 33.3), (2000.85, 23.7), (2000.95, 22.2), (2001.04, 21.1),
                        (2001.11, 20.3), (2001.18, 18.1), (2001.26, 22.9), (2001.35, 23.3), (2001.44, 25.5),
                        (2001.51, 12.2), (2001.58, 12.2), (2001.66, 5.2), (2001.71, 1.8), (2001.78, 3.7),
                        (2001.88, 2.2), (2001.95, 3.0), (2002.04, 3.0), (2002.11, 1.5), (2002.19, 0.1),
                        (2002.28, 0.7), (2002.35, 0.7), (2002.42, 5.5), (2002.50, 6.3), (2002.59, 7.8),
                        (2002.68, 1.5), (2002.75, 2.2), (2002.86, 0.7), (2002.97, 1.8), (2003.08, 4.1),
                        (2003.15, 3.0), (2003.23, 3.7), (2003.30, 14.8), (2003.39, 31.8), (2003.46, 47.3),
                        (2003.54, 58.4), (2003.61, 65.0), (2003.68, 67.3), (2003.75, 72.4), (2003.83, 75.4),
                        (2003.92, 77.2), (2004.01, 78.7), (2004.10, 79.5), (2004.25, 79.5), (2004.32, 66.5),
                        (2004.39, 64.3), (2004.49, 63.2), (2004.56, 58.4), (2004.65, 50.3), (2004.71, 42.1),
                        (2004.76, 34.0), (2004.84, 36.6), (2004.91, 25.9), (2004.96, 17.0), (2005.05, 17.7),
                        (2005.12, 25.1), (2005.20, 29.9), (2005.25, 18.8), (2005.31, 26.6), (2005.38, 37.0),
                        (2005.46, 42.1), (2005.53, 47.7), (2005.60, 47.7), (2005.65, 30.3), (2005.69, 10.3),
                        (2005.78, 13.7), (2005.93, 13.7), (2006.02, 12.2), (2006.11, 12.2), (2006.20, 10.3),
                        (2006.27, 9.6), (2006.36, 7.0), (2006.45, 6.7), (2006.55, 6.7), (2006.64, 5.3),
                        (2006.73, 6.3), (2006.80, 33.3), (2006.88, 55.4), (2006.93, 73.5), (2007.00, 71.8),
                        (2007.08, 76.9), (2007.15, 73.5), (2007.23, 79.1), (2007.30, 80.9), (2007.40, 81.3),
                        (2007.48, 71.0), (2007.53, 48.0), (2007.59, 29.6), (2007.68, 16.6), (2007.75, 21.4),
                        (2007.84, 21.4), (2007.92, 19.2), (2007.97, 9.6), (2008.03, 1.8), (2008.12, 1.3),
                        (2008.20, 0.4), (2008.30, 5.2), (2008.39, 5.3), (2008.48, 2.2), (2008.57, 3.0),
                        (2008.66, 0.7), (2008.79, 0.4), (2009.07, 0.4), (2009.18, 0.9), (2009.25, 4.4),
                        (2009.33, 6.7), (2009.42, 4.1), (2009.49, 7.4), (2009.58, 7.8), (2009.67, 7.8),
                        (2009.76, 15.5), (2009.83, 17.0), (2009.91, 15.5), (2009.98, 5.2), (2010.07, 4.4),
                        (2010.16, 3.3), (2010.26, 3.3), (2010.34, 2.2), (2010.43, 2.6), (2010.53, 1.6),
                        (2010.67, 0.4), (2010.85, 0.1), (2010.93, 0.4), (2011.00, 57.6), (2011.07, 70.6),
                        (2011.15, 65.2), (2011.24, 67.3), (2011.31, 73.9), (2011.40, 75.8), (2011.47, 78.0),
                        (2011.57, 81.3), (2011.68, 79.5), (2011.75, 83.5), (2011.84, 83.5), (2011.93, 87.1),
                        (2012.02, 85.7), (2012.11, 83.9), (2012.19, 74.3), (2012.28, 68.7), (2012.34, 67.3),
                        (2012.42, 43.6), (2012.49, 35.5), (2012.57, 33.3), (2012.62, 31.4), (2012.68, 37.3),
                        (2012.77, 39.5), (2012.85, 49.5), (2012.92, 63.6), (2012.99, 66.9), (2013.06, 48.0),
                        (2013.12, 25.9), (2013.19, 20.0), (2013.26, 40.7), (2013.34, 85.6), (2013.43, 72.4),
                        (2013.52, 73.5), (2013.59, 75.0), (2013.68, 73.2), (2013.76, 71.7), (2013.85, 72.4),
                        (2013.92, 73.2), (2014.01, 72.8), (2014.09, 68.7), (2014.18, 69.4), (2014.25, 69.1),
                        (2014.32, 64.3), (2014.41, 63.2), (2014.50, 62.8), (2014.58, 60.6), (2014.67, 62.8),
                        (2014.74, 58.4), (2014.81, 51.0), (2014.91, 42.1), (2015.00, 37.0), (2015.09, 31.8),
                        (2015.18, 27.3), (2015.27, 24.8), (2015.36, 25.1), (2015.43, 31.8), (2015.51, 20.7),
                        (2015.60, 15.2), (2015.67, 18.1), (2015.76, 17.6), (2015.84, 15.2), (2015.91, 13.3),
                        (2016.00, 4.8), (2016.09, 2.4), (2016.18, 4.4), (2016.27, 7.4), (2016.35, 10.7),
                        (2016.42, 5.2), (2016.51, 2.2), (2016.60, 10.0), (2016.67, 8.5), (2016.77, 8.5),
                        (2016.84, 3.7), (2016.93, 3.3), (2017.00, 2.6), (2017.09, 12.9), (2017.17, 77.6),
                        (2017.24, 85.7), (2017.30, 91.6), (2017.37, 89.4), (2017.45, 85.7), (2017.52, 84.6),
                        (2017.60, 48.0), (2017.67, 91.3), (2017.76, 91.8), (2017.85, 58.8), (2017.92, 65.8),
                        (2017.99, 84.6), (2018.04, 94.8), (2018.12, 90.5), (2018.21, 95.0), (2018.28, 95.0),
                        (2018.34, 79.1), (2018.41, 90.2), (2018.48, 94.2), (2018.57, 99.2), (2018.66, 97.6),
                        (2018.74, 87.2), (2018.83, 77.6), (2018.90, 62.8), (2018.97, 59.1), (2019.05, 59.1),
                        (2019.14, 96.2), (2019.23, 89.1), (2019.32, 90.5), (2019.39, 93.9), (2019.48, 95.7),
                        (2019.58, 96.8), (2019.66, 96.1), (2019.75, 93.1), (2019.82, 96.5), (2019.91, 96.8),
                        (2019.99, 96.1), (2020.06, 97.2), (2020.15, 96.1), (2020.22, 95.7), (2020.28, 93.9),
                        (2020.35, 48.0), (2020.43, 80.9), (2020.50, 73.2), (2020.59, 80.9), (2020.68, 14.4),
                        (2020.75, 46.6), (2020.84, 65.8), (2020.93, 89.1), (2021.02, 92.4), (2021.10, 56.2),
                        (2021.17, 8.1), (2021.24, 11.1), (2021.31, 9.6), (2021.40, 12.6), (2021.47, 57.6),
                        (2021.56, 32.5), (2021.66, 5.2), (2021.75, 15.5), (2021.86, 65.4), (2021.91, 45.8),
                        (2021.99, 62.8), (2022.06, 44.3), (2022.13, 42.9), (2022.21, 39.9), (2022.28, 42.9),
                        (2022.35, 37.7), (2022.43, 37.3), (2022.52, 28.8), (2022.61, 51.0), (2022.68, 55.4),
                        (2022.77, 57.6), (2022.85, 9.6), (2022.94, 15.2), (2023.03, 21.4), (2023.10, 31.8),
                        (2023.19, 23.3), (2023.28, 18.5), (2023.37, 12.2), (2023.45, 11.5), (2023.54, 6.7),
                        (2023.61, 4.4), (2023.71, 7.8), (2023.78, 10.3), (2023.85, 14.0), (2023.93, 14.4),
                        (2024.02, 4.4), (2024.11, 4.1), (2024.20, 3.0), (2024.28, 2.2), (2024.36, 3.7),
                        (2024.43, 5.3), (2024.51, 4.1), (2024.59, 8.3), (2024.68, 7.5), (2024.77, 5.9),
                        (2024.85, 2.2), (2024.94, 3.3), (2025.03, 4.2), (2025.10, 4.8), (2025.17, 10.3),
                        (2025.25, 4.8), (2025.34, 5.2), (2025.41, 5.0)]

series_names = ['Indonesia', 'Malaysia', 'Singapore', 'Thailand', 'Vietnam', 'SP500_return',
                'MSCI_EM_return', 'CleanEnergy_return', 'Gold_return', 'GPR_Global',
                'Economic_Uncertainty']
series_pts = [early + indonesia, early + malaysia, early + singapore, early + thailand,
              early + vietnam, early + sp500, early + msci_em, early + clean_energy,
              early + gold, gpr_global, economic_uncertainty]
year_breaks = [2001, 2004, 2007, 2010, 2013, 2016, 2019, 2022, 2025]
y_breaks = [0, 25, 50, 75, 100]

rows = []
for name, pts in zip(series_names, series_pts):
    for t, v in pts:
        rows.append((name, t, v))
df = pd.DataFrame(rows, columns=['series', 'year', 'value'])

sns.set_theme(style='white')
plt.rcParams['font.family'] = ['Liberation Sans', 'DejaVu Sans']

W, H = 3608, 2510
fig = plt.figure(figsize=(W / 300, H / 300), dpi=300)

col_left = [157, 1334, 2508]
pw, sh, ph = 1078, 74, 492
pitch = 587.5
border = '#333333'
fill_col = '#8ECDE3'
line_col = '#0B57A4'
xmin, xmax = df['year'].min(), df['year'].max()
xpad = 0.05 * (xmax - xmin)
bottom_panels = {'GPR_Global', 'Economic_Uncertainty', 'Gold_return'}

for i, name in enumerate(series_names):
    r, c = divmod(i, 3)
    top = 18 + r * pitch
    left = col_left[c]
    sax = fig.add_axes([left / W, 1 - (top + sh) / H, pw / W, sh / H])
    sax.set_facecolor('#D9D9D9')
    sax.set_xticks([])
    sax.set_yticks([])
    for sp in sax.spines.values():
        sp.set_color(border)
        sp.set_linewidth(0.7)
    sax.text(0.5, 0.47, name, ha='center', va='center', fontsize=8.8,
             fontweight='bold', color='#1A1A1A', transform=sax.transAxes)

    ax = fig.add_axes([left / W, 1 - (top + sh + ph) / H, pw / W, ph / H])
    d = df[df['series'] == name]
    ax.set_axisbelow(True)
    ax.grid(True, color='#EBEBEB', linewidth=0.9)
    ax.fill_between(d['year'], 0, d['value'], color=fill_col, alpha=0.85,
                    linewidth=0, zorder=2)
    sns.lineplot(data=d, x='year', y='value', ax=ax, color=line_col,
                 linewidth=0.6, estimator=None, sort=False, zorder=3)
    ymax = d['value'].max()
    ax.set_ylim(-0.05 * ymax, 1.05 * ymax)
    ax.set_xlim(xmin - xpad, xmax + xpad)
    ax.set_xticks(year_breaks)
    ax.set_yticks(y_breaks)
    ax.set_xlabel('')
    ax.set_ylabel('')
    for sp in ax.spines.values():
        sp.set_color(border)
        sp.set_linewidth(0.7)
    ax.tick_params(axis='both', direction='out', length=2.75, width=0.6,
                   color=border, labelsize=8.8, labelcolor='#4D4D4D', pad=2.2)
    ax.tick_params(axis='y', left=True)
    if name in bottom_panels:
        ax.tick_params(axis='x', bottom=True)
        ax.set_xticklabels([str(y) for y in year_breaks], rotation=45,
                           ha='right', rotation_mode='anchor')
    else:
        ax.tick_params(axis='x', bottom=False, labelbottom=False)

fig.text(46 / W, 1 - 1222 / H, 'Directional FROM Connectedness (%)', rotation=90,
         ha='center', va='center', fontsize=11, color='black')
fig.text(1870 / W, 1 - 2474 / H, 'Years', ha='center', va='center',
         fontsize=11, color='black')

fig.savefig('out.png', dpi=300)
